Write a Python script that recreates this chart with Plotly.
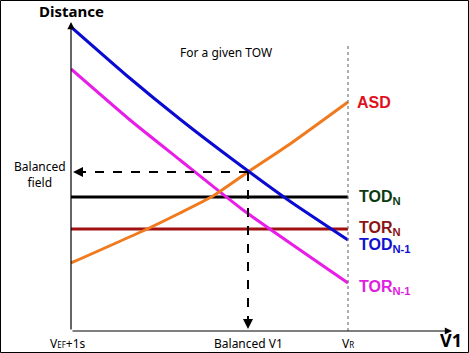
import plotly.graph_objects as go

# ---- data (x: V1 in arbitrary units from VEF+1s, y: distance in arbitrary units) ----
tod_n1_v1 = [0, 55, 110, 165, 220, 277]
tod_n1_dist = [304, 256, 211, 169, 129, 91]

tor_n1_v1 = [0, 59, 109, 172, 277]
tor_n1_dist = [262, 211, 171, 121, 48]

asd_v1 = [0, 74, 109, 142, 177, 219, 277]
asd_dist = [68, 101, 118, 135, 159, 187, 229]

tod_n_v1 = [0, 277]
tod_n_dist = [134, 134]

tor_n_v1 = [0, 277]
tor_n_dist = [102, 102]

v_ef = 0
balanced_v1 = 177
v_r = 277
balanced_field = 159
x_max = 381
y_max = 309

tick_labels = ["V<span style='font-size:8px'>EF</span>+1s", "Balanced V1", "V<span style='font-size:8px'>R</span>"]
tick_vals = [v_ef, balanced_v1, v_r]

FONT = "Noto Sans"
ARIAL = "Liberation Sans"

fig = go.Figure()

def line(x, y, color, width=3, shape="spline"):
    fig.add_trace(go.Scatter(x=x, y=y, mode="lines",
                             line=dict(color=color, width=width, shape=shape, smoothing=0.5),
                             hoverinfo="skip", showlegend=False))

line(tod_n_v1, tod_n_dist, "#000000", 3, "linear")
line(tor_n_v1, tor_n_dist, "#a01010", 3, "linear")
line(tor_n1_v1, tor_n1_dist, "#e81ee8")
line(asd_v1, asd_dist, "#f07a1e")
line(tod_n1_v1, tod_n1_dist, "#0a0ad2")

W, H = 469, 353
L, R, T, B = 71, 17, 22, 22
pw, ph = W - L - R, H - T - B

def px(p):  # pixel x -> paper
    return (p - L) / pw

def py(p):  # pixel y -> paper
    return (H - B - p) / ph

shapes = []
# VR dotted line
shapes.append(dict(type="line", x0=v_r, x1=v_r, y0=0, y1=287, xref="x", yref="y",
                   line=dict(color="#777777", width=1.2, dash="dot")))
# balanced field dashed lines
shapes.append(dict(type="line", x0=balanced_v1, x1=8, y0=balanced_field, y1=balanced_field,
                   xref="x", yref="y", line=dict(color="#000000", width=2, dash="dash")))
shapes.append(dict(type="line", x0=balanced_v1, x1=balanced_v1, y0=balanced_field, y1=8,
                   xref="x", yref="y", line=dict(color="#000000", width=2, dash="dash")))
# outer frame
shapes.append(dict(type="rect", xref="paper", yref="paper",
                   x0=px(0.5), x1=px(W - 0.5), y0=py(H - 0.5), y1=py(0.5),
                   line=dict(color="#000000", width=1)))

ann = []
# axes with arrows
ann.append(dict(x=0, y=y_max, ax=0, ay=0, xref="x", yref="y", axref="x", ayref="y",
                showarrow=True, arrowhead=2, arrowsize=1.2, arrowwidth=1.2, arrowcolor="#000", text=""))
ann.append(dict(x=x_max, y=0, ax=0, ay=0, xref="x", yref="y", axref="x", ayref="y",
                showarrow=True, arrowhead=2, arrowsize=1.2, arrowwidth=1.2, arrowcolor="#000", text=""))
# dashed arrow heads
ann.append(dict(x=2, y=balanced_field, ax=12, ay=balanced_field, xref="x", yref="y", axref="x", ayref="y",
                showarrow=True, arrowhead=2, arrowsize=1, arrowwidth=2, arrowcolor="#000", text=""))
ann.append(dict(x=balanced_v1, y=2, ax=balanced_v1, ay=12, xref="x", yref="y", axref="x", ayref="y",
                showarrow=True, arrowhead=2, arrowsize=1, arrowwidth=2, arrowcolor="#000", text=""))

def text(x, y, s, size=12, color="#000", xanchor="center", family=FONT, xref="x", yref="y"):
    ann.append(dict(x=x, y=y, text=s, xref=xref, yref=yref, showarrow=False,
                    xanchor=xanchor, yanchor="middle",
                    font=dict(family=family, size=size, color=color)))

text(px(71), py(11), "<b>Distance</b>", 15, xref="paper", yref="paper")
text(155, 279, "For a given TOW", 12)
text(px(40), 157, "Balanced<br>field", 12, xref="paper")
text(px(451), py(340), "<b>V1</b>", 18, xref="paper", yref="paper")
for v, lab in zip(tick_vals, tick_labels):
    xx = px(L + v) if v != v_ef else px(L - 3)
    text(xx, py(343), lab, 12, xref="paper", yref="paper")

text(284, 229, "<b>ASD</b>", 16, "#e0101c", "left", ARIAL)
text(286, 134, "<b>TOD<sub>N</sub></b>", 16, "#0c3a10", "left", ARIAL)
text(286, 103, "<b>TOR<sub>N</sub></b>", 16, "#8a1414", "left", ARIAL)
text(286, 86, "<b>TOD<sub>N-1</sub></b>", 16, "#1010d0", "left", ARIAL)
text(286, 44, "<b>TOR<sub>N-1</sub></b>", 16, "#e020e0", "left", ARIAL)

fig.update_layout(
    width=W, height=H,
    margin=dict(l=L, r=R, t=T, b=B),
    paper_bgcolor="white", plot_bgcolor="white",
    xaxis=dict(range=[0, x_max], showgrid=False, zeroline=False, showline=False,
               showticklabels=False, ticks=""),
    yaxis=dict(range=[0, y_max], showgrid=False, zeroline=False, showline=False,
               showticklabels=False, ticks=""),
    shapes=shapes, annotations=ann, showlegend=False,
)

fig.write_html("out.html")
